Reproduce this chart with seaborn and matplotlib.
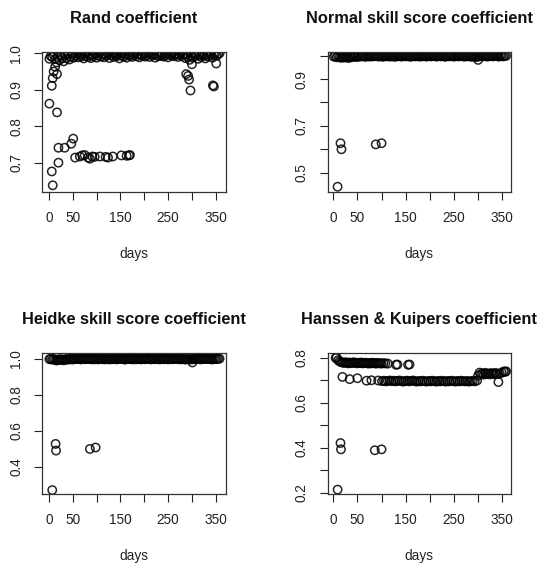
import matplotlib
matplotlib.use("Agg")
import matplotlib.pyplot as plt
import seaborn as sns

# ---------------- data ----------------
band_days = [1, 4, 7, 10, 13, 16, 19, 22, 25, 28, 31, 34, 37, 40, 43, 46, 49, 52, 55, 58,
             61, 64, 67, 70, 73, 76, 79, 82, 85, 88, 91, 94, 97, 100, 103, 106, 109, 112, 115, 118,
             121, 124, 127, 130, 133, 136, 139, 142, 145, 148, 151, 154, 157, 160, 163, 166, 169, 172, 175, 178,
             181, 184, 187, 190, 193, 196, 199, 202, 205, 208, 211, 214, 217, 220, 223, 226, 229, 232, 235, 238,
             241, 244, 247, 250, 253, 256, 259, 262, 265, 268, 271, 274, 277, 280, 283, 286, 289, 292, 295, 298,
             301, 304, 307, 310, 313, 316, 319, 322, 325, 328, 331, 334, 337, 340, 343, 346, 349, 352, 355, 358]

rand_band = [0.985, 0.992, 0.990, 0.996, 0.984, 0.975, 0.990, 0.981, 0.993, 0.987,
             0.978, 0.995, 0.986, 0.999, 0.983, 0.991, 0.997, 0.988, 0.994, 1.000,
             0.989, 0.996, 0.991, 0.998, 0.986, 0.993, 1.000, 0.990, 0.995, 0.987,
             0.997, 0.992, 0.999, 0.988, 0.994, 1.000, 0.991, 0.996, 0.989, 0.998,
             0.993, 0.999, 0.987, 0.995, 1.000, 0.990, 0.997, 0.992, 0.998, 0.986,
             0.994, 1.000, 0.991, 0.996, 0.988, 0.999, 0.993, 0.997, 0.990, 0.995,
             1.000, 0.992, 0.998, 0.989, 0.996, 0.993, 0.999, 0.991, 0.995, 1.000,
             0.990, 0.997, 0.994, 0.999, 0.988, 0.996, 0.992, 1.000, 0.993, 0.998,
             0.991, 0.995, 0.999, 0.989, 0.997, 0.994, 1.000, 0.992, 0.996, 0.998,
             0.990, 0.995, 1.000, 0.993, 0.998, 0.987, 0.996, 0.991, 0.982, 0.994,
             0.988, 0.997, 0.992, 0.999, 0.985, 0.995, 0.990, 0.998, 0.993, 0.986,
             0.996, 0.991, 0.999, 0.994, 0.988, 0.997, 1.000, 0.993, 0.998, 1.000]
rand_extra_days = [1, 6, 8, 10, 13, 17, 17, 20, 33, 47, 51, 20, 6, 8,
                   55, 65, 70, 75, 82, 86, 91, 96, 107, 119, 124, 134, 152, 163, 168, 170,
                   288, 292, 294, 297, 300, 344, 346, 351]
rand_extra_vals = [0.862, 0.911, 0.932, 0.950, 0.963, 0.943, 0.838, 0.741, 0.741, 0.752, 0.766, 0.700, 0.676, 0.638,
                   0.714, 0.717, 0.720, 0.721, 0.714, 0.711, 0.717, 0.716, 0.717, 0.716, 0.714, 0.717, 0.720, 0.719, 0.720, 0.721,
                   0.943, 0.938, 0.928, 0.898, 0.970, 0.912, 0.909, 0.972]

normal_band = [0.996, 0.999, 0.993, 0.998, 0.994, 0.991, 0.995, 0.992, 0.997, 0.994,
               0.990, 0.996, 0.993, 0.999, 0.995, 0.998, 0.994, 1.000, 0.996, 0.999,
               0.997, 1.000, 0.995, 0.998, 1.000, 0.996, 0.999, 0.997, 1.000, 0.998,
               0.999, 0.996, 1.000, 0.998, 0.995, 0.999, 1.000, 0.997, 0.999, 0.996,
               1.000, 0.998, 0.995, 0.999, 0.997, 1.000, 0.998, 0.996, 1.000, 0.999,
               0.997, 1.000, 0.998, 0.995, 0.999, 1.000, 0.997, 0.998, 1.000, 0.996,
               0.999, 0.997, 1.000, 0.998, 0.996, 0.999, 1.000, 0.997, 0.998, 0.999,
               1.000, 0.996, 0.998, 0.999, 0.997, 1.000, 0.998, 0.995, 0.999, 1.000,
               0.997, 0.999, 1.000, 0.996, 0.998, 1.000, 0.997, 0.999, 0.998, 1.000,
               0.996, 0.999, 0.997, 1.000, 0.998, 0.995, 0.999, 0.997, 0.994, 0.998,
               0.996, 1.000, 0.998, 0.997, 0.999, 1.000, 0.996, 0.999, 0.998, 1.000,
               0.997, 0.999, 1.000, 0.998, 0.996, 1.000, 0.999, 0.997, 1.000, 0.999]
normal_extra_days = [9, 15, 17, 88, 100, 300]
normal_extra_vals = [0.440, 0.626, 0.600, 0.621, 0.626, 0.982]

heidke_band = [0.997, 1.000, 0.995, 0.999, 0.993, 0.990, 0.996, 0.992, 0.998, 0.994,
               0.991, 0.997, 0.994, 1.000, 0.996, 0.999, 0.995, 1.000, 0.997, 0.999,
               0.998, 1.000, 0.996, 0.999, 1.000, 0.997, 0.999, 0.998, 1.000, 0.997,
               1.000, 0.996, 0.999, 0.998, 0.996, 1.000, 0.999, 0.997, 1.000, 0.996,
               0.999, 0.998, 0.996, 1.000, 0.997, 0.999, 0.998, 0.996, 1.000, 0.999,
               0.998, 1.000, 0.997, 0.995, 0.999, 1.000, 0.998, 0.997, 1.000, 0.996,
               1.000, 0.997, 0.999, 0.998, 0.996, 1.000, 0.999, 0.997, 0.998, 1.000,
               0.999, 0.996, 0.998, 1.000, 0.997, 0.999, 0.998, 0.996, 1.000, 0.999,
               0.997, 1.000, 0.999, 0.996, 0.998, 1.000, 0.997, 0.999, 0.998, 1.000,
               0.997, 0.999, 0.996, 1.000, 0.998, 0.995, 0.999, 0.997, 0.995, 0.999,
               0.996, 1.000, 0.998, 0.997, 0.999, 1.000, 0.996, 0.999, 0.998, 1.000,
               0.998, 0.999, 1.000, 0.997, 0.996, 1.000, 0.999, 0.998, 1.000, 1.000]
heidke_extra_days = [7, 14, 15, 86, 98, 301]
heidke_extra_vals = [0.272, 0.528, 0.491, 0.500, 0.508, 0.979]

hk_b1_days = [5, 7, 10, 13, 16, 19, 22, 25, 28, 31, 34, 37, 40, 43, 46, 49, 52, 55, 58, 61,
              64, 67, 70, 73, 76, 79, 82, 85, 88, 91, 94, 97, 100, 104, 108, 113, 130, 133, 155, 158]
hk_b1_vals = [0.800, 0.803, 0.790, 0.785, 0.782, 0.780, 0.778, 0.781, 0.779, 0.776,
              0.780, 0.777, 0.779, 0.781, 0.778, 0.776, 0.779, 0.777, 0.780, 0.776,
              0.778, 0.779, 0.777, 0.775, 0.778, 0.776, 0.779, 0.777, 0.775, 0.778,
              0.776, 0.777, 0.775, 0.777, 0.776, 0.775, 0.770, 0.771, 0.770, 0.771]
hk_b2_days = [19, 34, 50, 69, 79, 93, 101, 105, 109, 113, 117, 121, 125, 129, 133, 137, 141, 145, 149, 153,
              157, 161, 165, 169, 173, 177, 181, 185, 189, 193, 197, 201, 205, 209, 213, 217, 221, 225, 229, 233,
              237, 241, 245, 249, 253, 257, 261, 265, 269, 273, 277, 281, 285, 289, 293]
hk_b2_vals = [0.716, 0.706, 0.710, 0.699, 0.701, 0.700, 0.697, 0.699, 0.696, 0.698,
              0.700, 0.697, 0.699, 0.696, 0.698, 0.700, 0.697, 0.695, 0.698, 0.699,
              0.696, 0.698, 0.700, 0.697, 0.695, 0.698, 0.696, 0.699, 0.697, 0.695,
              0.698, 0.696, 0.699, 0.697, 0.695, 0.698, 0.696, 0.699, 0.697, 0.695,
              0.698, 0.696, 0.699, 0.697, 0.695, 0.698, 0.696, 0.699, 0.697, 0.696,
              0.698, 0.695, 0.697, 0.699, 0.696]
hk_b3_days = [298, 300, 303, 306, 309, 312, 315, 318, 321, 324, 327, 330, 333, 336, 339, 342, 345, 349, 353, 356, 358]
hk_b3_vals = [0.700, 0.722, 0.735, 0.728, 0.732, 0.726, 0.734, 0.729, 0.731, 0.727,
              0.733, 0.730, 0.728, 0.734, 0.729, 0.693, 0.731, 0.735, 0.740, 0.738, 0.741]
hk_out_days = [9, 15, 16, 86, 100]
hk_out_vals = [0.215, 0.422, 0.394, 0.390, 0.394]

titles = ["Rand coefficient", "Normal skill score coefficient",
          "Heidke skill score coefficient", "Hanssen & Kuipers coefficient"]
x_label = "days"
x_ticks = [0, 50, 100, 150, 200, 250, 300, 350]
x_tick_labels = ["0", "50", "", "150", "", "250", "", "350"]

panels = [
    dict(x=band_days + rand_extra_days, y=rand_band + rand_extra_vals,
         yticks=[0.7, 0.8, 0.9, 1.0], ylabels=["0.7", "0.8", "0.9", "1.0"],
         ylim=(0.6188, 1.0044), xlim=(-14.5, 371.5)),
    dict(x=band_days + normal_extra_days, y=normal_band + normal_extra_vals,
         yticks=[0.5, 0.6, 0.7, 0.8, 0.9, 1.0], ylabels=["0.5", "", "0.7", "", "0.9", ""],
         ylim=(0.4162, 1.0171), xlim=(-11.5, 367.5)),
    dict(x=band_days + heidke_extra_days, y=heidke_band + heidke_extra_vals,
         yticks=[0.4, 0.6, 0.8, 1.0], ylabels=["0.4", "0.6", "0.8", "1.0"],
         ylim=(0.2488, 1.0332), xlim=(-14.5, 371.5)),
    dict(x=hk_b1_days + hk_b2_days + hk_b3_days + hk_out_days,
         y=hk_b1_vals + hk_b2_vals + hk_b3_vals + hk_out_vals,
         yticks=[0.2, 0.3, 0.4, 0.5, 0.6, 0.7, 0.8],
         ylabels=["0.2", "", "0.4", "", "0.6", "", "0.8"],
         ylim=(0.1942, 0.8235), xlim=(-11.5, 367.5)),
]

# ---------------- style ----------------
sns.set_theme(style="white")
plt.rcParams["font.family"] = ["Liberation Sans", "DejaVu Sans"]

fig = plt.figure(figsize=(5.39, 5.64), dpi=100)
W, H = 539.0, 564.0
boxes = [(42.0, 51.7, 226.0, 192.3), (327.7, 51.7, 510.7, 192.3),
         (42.0, 352.7, 226.0, 494.3), (327.7, 352.7, 510.7, 494.3)]

ink = "#222222"
for p, t, (l, tp, r, b) in zip(panels, titles, boxes):
    ax = fig.add_axes([l / W, 1 - b / H, (r - l) / W, (b - tp) / H])
    sns.scatterplot(x=p["x"], y=p["y"], ax=ax, marker="o", s=36,
                    facecolors="none", edgecolor="black", linewidth=1.1,
                    alpha=0.85, legend=False)
    ax.set_xlim(*p["xlim"])
    ax.set_ylim(*p["ylim"])
    ax.set_xticks(x_ticks)
    ax.set_xticklabels(x_tick_labels)
    ax.set_yticks(p["yticks"])
    ax.set_yticklabels(p["ylabels"], rotation=90, va="center")
    ax.tick_params(axis="both", direction="out", length=5.5, width=0.8,
                   color=ink, labelsize=9.8, labelcolor=ink, pad=8,
                   bottom=True, left=True)
    for sp in ax.spines.values():
        sp.set_visible(True)
        sp.set_color("#333333")
        sp.set_linewidth(0.9)
    ax.set_title(t, fontsize=11.8, fontweight="bold", pad=21, color="#111111")
    ax.set_xlabel(x_label, fontsize=9.8, color=ink)
    ax.xaxis.set_label_coords(0.5, -0.387)
    ax.set_ylabel("")
    ax.grid(False)

fig.savefig("out.png", dpi=100, facecolor="white")
